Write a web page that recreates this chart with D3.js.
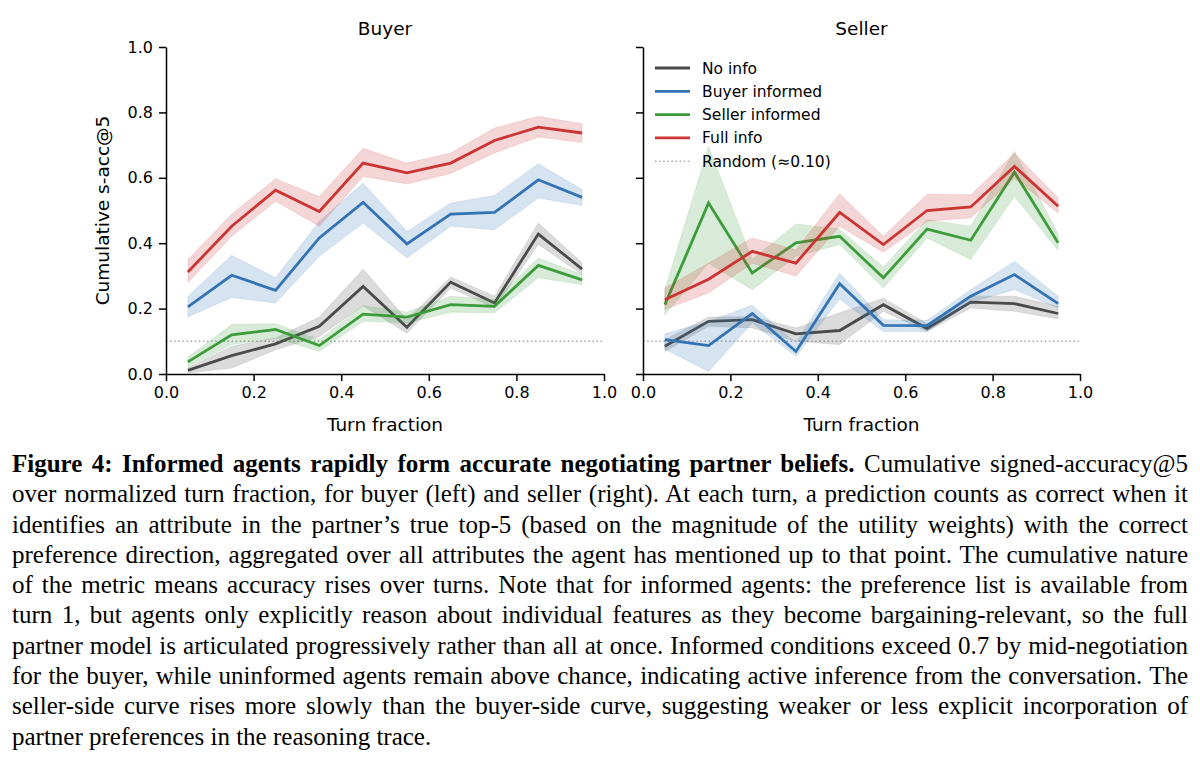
<!DOCTYPE html>
<html lang="en">
<head>
<meta charset="UTF-8" />
<title>Cumulative s-acc@5 - d3</title>
<script src="https://d3js.org/d3.v7.min.js"></script>
<style>
  html, body { margin: 0; padding: 0; background: #fff; }
  svg { position: absolute; left: 0; top: 0; }
  .axis path, .axis line { fill: none; stroke: #000; stroke-width: 1.5; }
  .axis text { font-family: "DejaVu Sans", sans-serif; font-size: 16px; fill: #000; }
  #caption {
    position: absolute; left: 12px; top: 449px; width: 1176px;
    font-family: "Liberation Serif", "Times New Roman", serif; font-size: 25px; color: #000;
  }
  #caption div {
    height: 30.3px; line-height: 30.3px; white-space: nowrap;
    text-align: justify; text-align-last: justify;
  }
  #caption div.last { text-align-last: left; }
</style>
</head>
<body>
<div id="caption"></div>
<script>
// x positions of the turn-fraction bins
var turnFrac = [0.05, 0.15, 0.25, 0.35, 0.45, 0.55, 0.65, 0.75, 0.85, 0.95];
var xTicks = [0.0, 0.2, 0.4, 0.6, 0.8, 1.0];
var yTicks = [0.0, 0.2, 0.4, 0.6, 0.8, 1.0];
var seriesNames = ["No info", "Buyer informed", "Seller informed", "Full info"];
var seriesColors = ["#4a4a4a", "#3473b3", "#3d9c3a", "#cc3333"];
var randomLevel = 0.10;
var randomLabel = "Random (\u22480.10)";

// Buyer panel
var buyerNoInfo   = [0.011, 0.056, 0.092, 0.146, 0.268, 0.143, 0.281, 0.217, 0.428, 0.321];
var buyerNoInfoLo = [0.003, 0.018, 0.074, 0.115, 0.209, 0.125, 0.263, 0.202, 0.396, 0.304];
var buyerNoInfoHi = [0.019, 0.085, 0.110, 0.174, 0.321, 0.166, 0.297, 0.238, 0.462, 0.340];
var buyerBuyerInf   = [0.205, 0.302, 0.256, 0.416, 0.525, 0.398, 0.489, 0.494, 0.594, 0.540];
var buyerBuyerInfLo = [0.174, 0.234, 0.217, 0.360, 0.462, 0.355, 0.452, 0.441, 0.538, 0.515];
var buyerBuyerInfHi = [0.238, 0.363, 0.294, 0.467, 0.584, 0.436, 0.523, 0.546, 0.643, 0.564];
var buyerSellerInf   = [0.037, 0.120, 0.136, 0.087, 0.183, 0.174, 0.212, 0.207, 0.332, 0.288];
var buyerSellerInfLo = [0.022, 0.090, 0.110, 0.069, 0.161, 0.156, 0.189, 0.187, 0.294, 0.273];
var buyerSellerInfHi = [0.052, 0.151, 0.154, 0.105, 0.209, 0.189, 0.238, 0.227, 0.355, 0.304];
var buyerFullInfo   = [0.312, 0.452, 0.562, 0.497, 0.645, 0.615, 0.645, 0.714, 0.755, 0.737];
var buyerFullInfoLo = [0.280, 0.421, 0.528, 0.452, 0.604, 0.581, 0.613, 0.676, 0.725, 0.708];
var buyerFullInfoHi = [0.350, 0.489, 0.597, 0.543, 0.690, 0.645, 0.676, 0.752, 0.788, 0.765];

// Seller panel
var sellerNoInfo   = [0.085, 0.161, 0.166, 0.123, 0.133, 0.212, 0.139, 0.220, 0.215, 0.185];
var sellerNoInfoLo = [0.069, 0.146, 0.141, 0.100, 0.090, 0.192, 0.130, 0.202, 0.192, 0.168];
var sellerNoInfoHi = [0.105, 0.174, 0.176, 0.141, 0.187, 0.232, 0.154, 0.238, 0.238, 0.207];
var sellerBuyerInf   = [0.105, 0.087, 0.185, 0.069, 0.276, 0.149, 0.148, 0.238, 0.304, 0.215];
var sellerBuyerInfLo = [0.076, 0.008, 0.156, 0.054, 0.229, 0.130, 0.130, 0.219, 0.258, 0.202];
var sellerBuyerInfHi = [0.123, 0.161, 0.210, 0.095, 0.309, 0.166, 0.164, 0.258, 0.345, 0.238];
var sellerSellerInf   = [0.212, 0.523, 0.309, 0.401, 0.421, 0.294, 0.443, 0.409, 0.617, 0.401];
var sellerSellerInfLo = [0.181, 0.339, 0.258, 0.360, 0.396, 0.263, 0.416, 0.350, 0.543, 0.378];
var sellerSellerInfHi = [0.258, 0.696, 0.350, 0.459, 0.443, 0.327, 0.472, 0.452, 0.681, 0.429];
var sellerFullInfo   = [0.227, 0.290, 0.375, 0.339, 0.494, 0.396, 0.500, 0.511, 0.635, 0.513];
var sellerFullInfoLo = [0.197, 0.248, 0.339, 0.299, 0.452, 0.372, 0.467, 0.477, 0.599, 0.492];
var sellerFullInfoHi = [0.263, 0.339, 0.416, 0.380, 0.551, 0.421, 0.550, 0.548, 0.675, 0.538];

var captionLines = [
  ["Figure 4: Informed agents rapidly form accurate negotiating partner beliefs.", " Cumulative signed-accuracy@5"],
  ["", "over normalized turn fraction, for buyer (left) and seller (right). At each turn, a prediction counts as correct when it"],
  ["", "identifies an attribute in the partner\u2019s true top-5 (based on the magnitude of the utility weights) with the correct"],
  ["", "preference direction, aggregated over all attributes the agent has mentioned up to that point. The cumulative nature"],
  ["", "of the metric means accuracy rises over turns. Note that for informed agents: the preference list is available from"],
  ["", "turn 1, but agents only explicitly reason about individual features as they become bargaining-relevant, so the full"],
  ["", "partner model is articulated progressively rather than all at once. Informed conditions exceed 0.7 by mid-negotiation"],
  ["", "for the buyer, while uninformed agents remain above chance, indicating active inference from the conversation. The"],
  ["", "seller-side curve rises more slowly than the buyer-side curve, suggesting weaker or less explicit incorporation of"],
  ["", "partner preferences in the reasoning trace."]
];

var panels = [
  { title: "Buyer", left: 166, right: 604, yLabels: true, legend: false,
    mean: [buyerNoInfo, buyerBuyerInf, buyerSellerInf, buyerFullInfo],
    lo: [buyerNoInfoLo, buyerBuyerInfLo, buyerSellerInfLo, buyerFullInfoLo],
    hi: [buyerNoInfoHi, buyerBuyerInfHi, buyerSellerInfHi, buyerFullInfoHi] },
  { title: "Seller", left: 643, right: 1080, yLabels: false, legend: true,
    mean: [sellerNoInfo, sellerBuyerInf, sellerSellerInf, sellerFullInfo],
    lo: [sellerNoInfoLo, sellerBuyerInfLo, sellerSellerInfLo, sellerFullInfoLo],
    hi: [sellerNoInfoHi, sellerBuyerInfHi, sellerSellerInfHi, sellerFullInfoHi] }
];

var plotTop = 47, plotBottom = 374;
var font = "DejaVu Sans, sans-serif";

var svg = d3.select("body").append("svg").attr("width", 1200).attr("height", 440);

panels.forEach(function (p) {
  var x = d3.scaleLinear().domain([0, 1]).range([p.left, p.right]);
  var y = d3.scaleLinear().domain([0, 1]).range([plotBottom, plotTop]);
  var g = svg.append("g");

  // chance level
  g.append("line")
    .attr("x1", x(0)).attr("x2", x(1))
    .attr("y1", y(randomLevel)).attr("y2", y(randomLevel))
    .attr("stroke", "#a8a8a8").attr("stroke-width", 1.5)
    .attr("stroke-dasharray", "1.5,2.6");

  var area = d3.area()
    .x(function (d) { return x(d[0]); })
    .y0(function (d) { return y(d[1]); })
    .y1(function (d) { return y(d[2]); });
  var line = d3.line()
    .x(function (d) { return x(d[0]); })
    .y(function (d) { return y(d[1]); });

  seriesNames.forEach(function (name, i) {
    var band = turnFrac.map(function (t, k) { return [t, p.lo[i][k], p.hi[i][k]]; });
    var pts = turnFrac.map(function (t, k) { return [t, p.mean[i][k]]; });
    g.append("path").datum(band)
      .attr("d", area)
      .attr("fill", seriesColors[i]).attr("fill-opacity", 0.2)
      .attr("stroke", seriesColors[i]).attr("stroke-opacity", 0.12).attr("stroke-width", 1);
    g.append("path").datum(pts)
      .attr("d", line)
      .attr("fill", "none")
      .attr("stroke", seriesColors[i]).attr("stroke-width", 2.8)
      .attr("stroke-linejoin", "miter").attr("stroke-linecap", "butt");
  });

  // axes
  var xAxis = d3.axisBottom(x).tickValues(xTicks).tickFormat(d3.format(".1f"))
    .tickSize(7).tickPadding(6).tickSizeOuter(0);
  g.append("g").attr("class", "axis")
    .attr("transform", "translate(0," + plotBottom + ")").call(xAxis);

  var yAxis = d3.axisLeft(y).tickValues(yTicks).tickSize(7).tickPadding(6).tickSizeOuter(0)
    .tickFormat(p.yLabels ? d3.format(".1f") : "");
  g.append("g").attr("class", "axis")
    .attr("transform", "translate(" + p.left + ",0)").call(yAxis);

  g.append("text")
    .attr("x", (p.left + p.right) / 2).attr("y", 35)
    .attr("text-anchor", "middle")
    .attr("font-family", font).attr("font-size", 18.5)
    .text(p.title);

  g.append("text")
    .attr("x", (p.left + p.right) / 2).attr("y", 431)
    .attr("text-anchor", "middle")
    .attr("font-family", font).attr("font-size", 18.5)
    .text("Turn fraction");

  if (p.yLabels) {
    g.append("text")
      .attr("transform", "translate(109," + (plotTop + plotBottom) / 2 + ") rotate(-90)")
      .attr("text-anchor", "middle")
      .attr("font-family", font).attr("font-size", 18.5)
      .text("Cumulative s-acc@5");
  }

  if (p.legend) {
    var items = seriesNames.map(function (n, i) { return { name: n, color: seriesColors[i], dotted: false }; });
    items.push({ name: randomLabel, color: "#a8a8a8", dotted: true });
    var lg = g.append("g").attr("transform", "translate(" + (p.left + 12) + ",68)");
    var row = lg.selectAll("g").data(items).enter().append("g")
      .attr("transform", function (d, i) { return "translate(0," + i * 23.3 + ")"; });
    row.append("line")
      .attr("x1", 0).attr("x2", 35).attr("y1", 0).attr("y2", 0)
      .attr("stroke", function (d) { return d.color; })
      .attr("stroke-width", function (d) { return d.dotted ? 1.5 : 2.8; })
      .attr("stroke-dasharray", function (d) { return d.dotted ? "1.5,2.6" : null; });
    row.append("text")
      .attr("x", 47).attr("y", 0).attr("dy", "0.36em")
      .attr("font-family", font).attr("font-size", 15.5)
      .text(function (d) { return d.name; });
  }
});

// caption, one justified row per line of the original
var cap = d3.select("#caption");
captionLines.forEach(function (l, i) {
  var div = cap.append("div").classed("last", i === captionLines.length - 1);
  var inner = div.append("span");
  if (l[0]) inner.append("b").text(l[0]);
  inner.append("span").text(l[1]);
  // squeeze the word gaps if a line is naturally wider than the column
  var w = inner.node().getBoundingClientRect().width;
  var gaps = (l[0] + l[1]).split(" ").length - 1;
  if (w > 1176 && gaps > 0) div.style("word-spacing", ((1176 - w) / gaps - 0.2) + "px");
});
</script>
</body>
</html>
